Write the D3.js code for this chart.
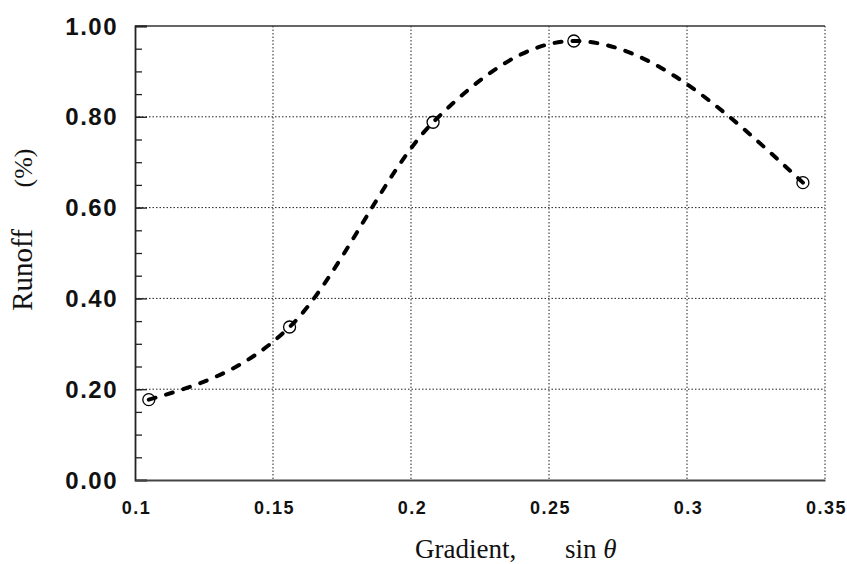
<!DOCTYPE html>
<html>
<head>
<meta charset="utf-8">
<script src="https://cdn.jsdelivr.net/npm/d3@7"></script>
<style>
    body { margin: 0; background: #fff; }
    svg { display: block; }
</style>
</head>
<body>
<svg width="847" height="564"></svg>
<script>
const width = 847;
const height = 564;
const margin = { top: 26, right: 22, bottom: 84, left: 135 };
const innerWidth = width - margin.left - margin.right;
const innerHeight = height - margin.top - margin.bottom;

// measured points
const gradient = [0.105, 0.156, 0.208, 0.259, 0.342];
const runoff = [0.177, 0.337, 0.788, 0.967, 0.655];

const xTicks = [0.1, 0.15, 0.2, 0.25, 0.3, 0.35];
const xTickLabels = ["0.1", "0.15", "0.2", "0.25", "0.3", "0.35"];
const yTicks = [0, 0.2, 0.4, 0.6, 0.8, 1.0];
const yTickLabels = ["0.00", "0.20", "0.40", "0.60", "0.80", "1.00"];
const yMinorTicks = d3.range(0.05, 1.0, 0.05);

const svg = d3.select("svg");
const g = svg.append("g")
    .attr("transform", `translate(${margin.left}, ${margin.top})`);

const x = d3.scaleLinear().domain([0.1, 0.35]).range([0, innerWidth]);
const y = d3.scaleLinear().domain([0, 1]).range([innerHeight, 0]);

// grid (dotted)
const grid = g.append("g")
    .attr("stroke", "#222")
    .attr("stroke-width", 1)
    .attr("stroke-dasharray", "1.5,2");
grid.selectAll("line.vx")
    .data(xTicks.slice(1))
    .join("line")
    .attr("x1", d => x(d)).attr("x2", d => x(d))
    .attr("y1", 0).attr("y2", innerHeight);
grid.selectAll("line.hy")
    .data(yTicks.slice(1, -1))
    .join("line")
    .attr("x1", 0).attr("x2", innerWidth)
    .attr("y1", d => y(d)).attr("y2", d => y(d));

// top frame line
g.append("line")
    .attr("x1", 0).attr("x2", innerWidth)
    .attr("y1", 0).attr("y2", 0)
    .attr("stroke", "#333").attr("stroke-width", 1.5);

// left axis with inward ticks (labels drawn separately)
const yAxis = d3.axisRight(y)
    .tickValues(yTicks)
    .tickSize(12);
const yAxisG = g.append("g").call(yAxis);
yAxisG.selectAll("text").remove();
yAxisG.select(".domain").attr("stroke", "#222").attr("stroke-width", 1.8);
yAxisG.selectAll(".tick line").attr("stroke", "#222").attr("stroke-width", 1.3);

const yMinor = d3.axisRight(y)
    .tickValues(yMinorTicks)
    .tickSize(7);
const yMinorG = g.append("g").call(yMinor);
yMinorG.selectAll("text").remove();
yMinorG.select(".domain").remove();
yMinorG.selectAll(".tick line").attr("stroke", "#222").attr("stroke-width", 1.3);

// y labels
g.selectAll("text.ylab")
    .data(yTicks)
    .join("text")
    .attr("class", "ylab")
    .attr("x", -17)
    .attr("y", d => y(d))
    .attr("dy", "0.36em")
    .attr("text-anchor", "end")
    .attr("font-family", "Liberation Sans, Arial, sans-serif")
    .attr("font-weight", "bold")
    .attr("font-size", 24)
    .attr("letter-spacing", 1.5)
    .attr("fill", "#111")
    .text((d, i) => yTickLabels[i]);

// bottom axis
const xAxis = d3.axisBottom(x)
    .tickValues(xTicks)
    .tickSize(0)
    .tickPadding(21)
    .tickFormat((d, i) => xTickLabels[i]);
const xAxisG = g.append("g")
    .attr("transform", `translate(0, ${innerHeight})`)
    .call(xAxis);
xAxisG.select(".domain").attr("stroke", "#444").attr("stroke-width", 2);
xAxisG.selectAll(".tick text")
    .attr("font-family", "Liberation Sans, Arial, sans-serif")
    .attr("font-weight", "bold")
    .attr("font-size", 18)
    .attr("letter-spacing", 1.5)
    .attr("dx", 1)
    .attr("fill", "#111");

// fitted curve
const pts = gradient.map((d, i) => [x(d), y(runoff[i])]);
g.append("path")
    .attr("d", d3.line().curve(d3.curveMonotoneX)(pts))
    .attr("fill", "none")
    .attr("stroke", "#000")
    .attr("stroke-width", 4)
    .attr("stroke-linecap", "round")
    .attr("stroke-dasharray", "7,11");

// markers
g.selectAll("circle")
    .data(pts)
    .join("circle")
    .attr("cx", d => d[0])
    .attr("cy", d => d[1])
    .attr("r", 6)
    .attr("fill", "none")
    .attr("stroke", "#000")
    .attr("stroke-width", 1.3);

// axis titles
const serif = "Liberation Serif, Times New Roman, serif";
const xTitle = svg.append("text")
    .attr("x", 415)
    .attr("y", 558)
    .attr("font-family", serif)
    .attr("font-size", 27)
    .attr("fill", "#111");
xTitle.append("tspan").text("Gradient,");
xTitle.append("tspan").attr("x", 565).text("sin ");
xTitle.append("tspan").attr("font-style", "italic").text("θ");

svg.append("text")
    .attr("transform", "translate(32, 270) rotate(-90)")
    .attr("text-anchor", "middle")
    .attr("font-family", serif)
    .attr("font-size", 29)
    .attr("fill", "#111")
    .text("Runoff");
svg.append("text")
    .attr("transform", "translate(32, 168) rotate(-90)")
    .attr("text-anchor", "middle")
    .attr("font-family", serif)
    .attr("font-size", 26)
    .attr("fill", "#111")
    .text("(%)");
</script>
</body>
</html>
